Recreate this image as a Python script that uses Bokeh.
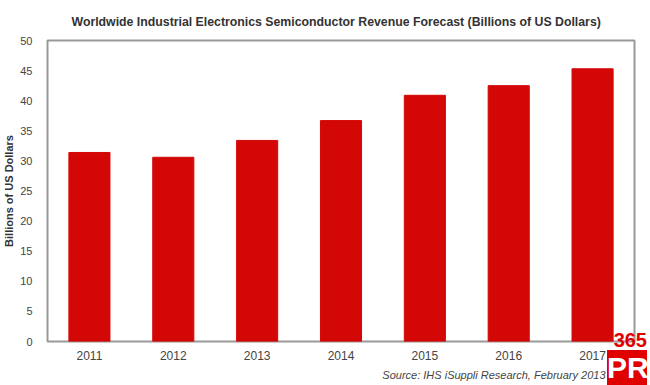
from bokeh.plotting import figure
from bokeh.models import Range1d, FactorRange, Title, FixedTicker, Div
from bokeh.layouts import column
from bokeh.embed import file_html
from bokeh.resources import INLINE

years = ["2011", "2012", "2013", "2014", "2015", "2016", "2017"]
revenue = [31.4, 30.6, 33.4, 36.7, 40.9, 42.5, 45.3]
y_ticks = [0, 5, 10, 15, 20, 25, 30, 35, 40, 45, 50]

FONT = "Liberation Sans"

p = figure(width=636, height=384, output_backend="svg", toolbar_location=None,
           x_range=FactorRange(factors=years, range_padding=0),
           y_range=Range1d(0, 50),
           min_border_left=0, min_border_right=2, min_border_top=4, min_border_bottom=0)

p.title.text = "Worldwide Industrial Electronics Semiconductor Revenue Forecast (Billions of US Dollars)"
p.title.text_font = FONT
p.title.text_font_size = "12.3px"
p.title.text_font_style = "bold"
p.title.text_color = "#333333"
p.title.align = "left"
p.title.offset = 24
p.title.standoff = 24

p.vbar(x=years, top=revenue, width=0.49, fill_color="#D40707", line_color="#D40707")

p.outline_line_color = "#999999"
p.outline_line_width = 2
p.xgrid.grid_line_color = None
p.ygrid.grid_line_color = None

p.yaxis.ticker = FixedTicker(ticks=y_ticks)
p.yaxis.axis_label = "Billions of US Dollars"
p.yaxis.axis_label_text_font = FONT
p.yaxis.axis_label_text_font_size = "11px"
p.yaxis.axis_label_text_font_style = "bold"
p.yaxis.axis_label_text_color = "#333333"
p.yaxis.axis_label_standoff = 2
p.yaxis.major_label_standoff = 9

for ax in (p.xaxis, p.yaxis):
    ax.axis_line_color = None
    ax.major_tick_line_color = None
    ax.minor_tick_line_color = None
    ax.major_label_text_font = FONT
    ax.major_label_text_color = "#444444"
p.yaxis.major_label_text_font_size = "11px"
p.xaxis.major_label_text_font_size = "12px"
p.xaxis.major_label_standoff = 3

src = Title(text="Source: IHS iSuppli Research, February 2013", align="right",
            text_font=FONT, text_font_size="11px", text_font_style="italic",
            text_color="#444444", offset=29, standoff=8)
p.add_layout(src, "below")

logo_html = (
    '<div style="font-family:\'Liberation Sans\';font-weight:bold;line-height:1;width:40px;">'
    '<div style="color:#E00000;font-size:20px;text-align:right;">365</div>'
    '<div style="background:#E00000;color:#ffffff;font-size:30px;height:36px;'
    'line-height:36px;text-align:center;">PR</div></div>'
)
logo = Div(text=logo_html, width=40, height=56,
           styles={"position": "absolute", "left": "602px", "top": "325px", "z-index": "10"})

layout = column(p, logo)

open("out.html", "w").write(file_html(layout, INLINE))
